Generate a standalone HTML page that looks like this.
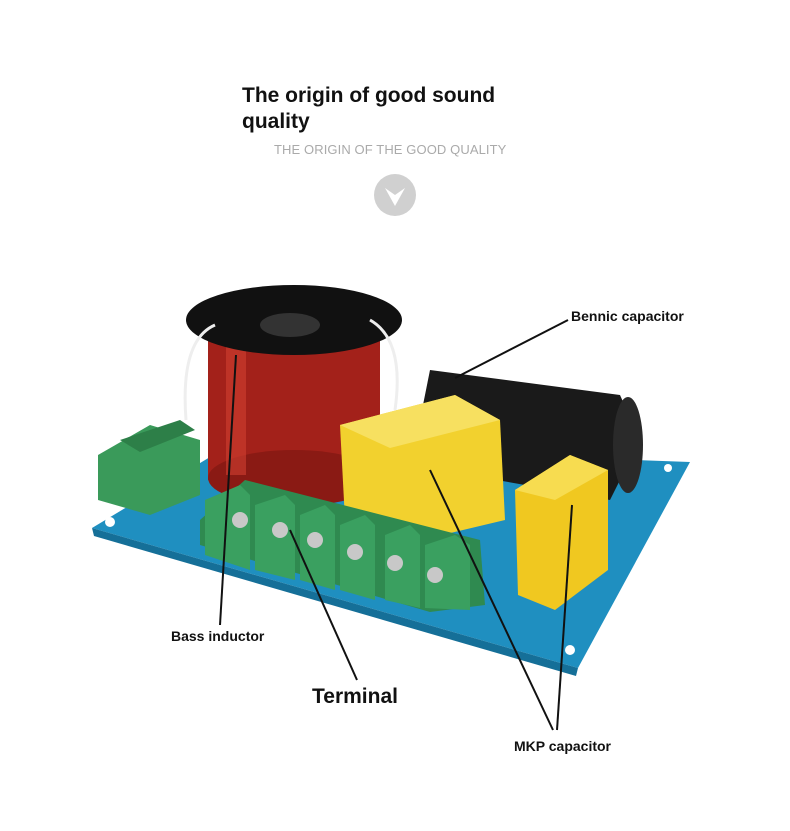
<!DOCTYPE html>
<html><head><meta charset="utf-8"><style>
html,body{margin:0;padding:0;background:#fff;}
body{width:790px;height:831px;position:relative;overflow:hidden;font-family:"Liberation Sans",sans-serif;}
.t{position:absolute;left:242px;top:83px;font-size:21px;font-weight:bold;line-height:26px;color:#111;width:300px;}
.s{position:absolute;left:274px;top:142px;font-size:13px;color:#aaa;letter-spacing:0.1px;}
.l{position:absolute;font-weight:bold;color:#111;background:#fff;}
</style></head><body>
<div class="t">The origin of good sound<br>quality</div>
<div class="s">THE ORIGIN OF THE GOOD QUALITY</div>
<svg width="790" height="831" style="position:absolute;left:0;top:0">
<circle cx="395" cy="195" r="21" fill="#d0d0d0"/>
<polygon points="385,188 395,195 405,188 395,206" fill="#fff"/>
<!-- PCB -->
<polygon points="92,528 230,445 690,462 578,668" fill="#1f8fc0"/>
<polygon points="92,528 578,668 576,676 94,536" fill="#156f98"/>
<circle cx="110" cy="522" r="5" fill="#fff"/>
<circle cx="570" cy="650" r="5" fill="#fff"/>
<circle cx="668" cy="468" r="4" fill="#fff"/>
<!-- left terminal -->
<polygon points="98,455 150,425 200,440 200,495 150,515 98,500" fill="#3a9a5a"/>
<polygon points="120,440 180,420 195,430 140,452" fill="#2d7f48"/>
<!-- inductor -->
<rect x="208" y="330" width="172" height="150" fill="#a3211a"/>
<ellipse cx="294" cy="478" rx="86" ry="28" fill="#8a1a14"/>
<rect x="226" y="345" width="20" height="130" fill="#d04030" opacity="0.6"/>
<ellipse cx="294" cy="320" rx="108" ry="35" fill="#111"/>
<ellipse cx="290" cy="325" rx="30" ry="12" fill="#333"/>
<path d="M186,420 Q180,340 215,325 M395,410 Q405,340 370,320" stroke="#eee" stroke-width="3" fill="none"/>
<!-- black capacitor -->
<polygon points="430,370 620,395 640,440 610,500 440,470 420,420" fill="#1a1a1a"/>
<ellipse cx="628" cy="445" rx="15" ry="48" fill="#2a2a2a"/>
<!-- yellow MKP big -->
<polygon points="340,425 455,395 500,420 505,520 400,545 345,520" fill="#f2d12e"/>
<polygon points="340,425 455,395 500,420 390,448" fill="#f7e060"/>
<!-- small yellow -->
<polygon points="515,490 570,455 608,470 608,570 555,610 518,595" fill="#f0c820"/>
<polygon points="515,490 570,455 608,470 555,500" fill="#f7dc50"/>
<!-- green terminals -->
<polygon points="200,520 245,480 480,540 485,605 430,612 200,545" fill="#2f8a50"/>
<g fill="#3aa060">
<polygon points="205,500 240,485 250,495 250,570 205,555"/>
<polygon points="255,505 285,495 295,505 295,580 255,570"/>
<polygon points="300,515 325,505 335,515 335,590 300,580"/>
<polygon points="340,525 365,515 375,525 375,600 340,590"/>
<polygon points="385,535 410,525 420,535 420,608 385,600"/>
<polygon points="425,545 455,535 470,545 470,610 425,608"/>
</g>
<g fill="#c8c8c8"><circle cx="240" cy="520" r="8"/><circle cx="280" cy="530" r="8"/><circle cx="315" cy="540" r="8"/><circle cx="355" cy="552" r="8"/><circle cx="395" cy="563" r="8"/><circle cx="435" cy="575" r="8"/></g>
<!-- leader lines -->
<g stroke="#111" stroke-width="2" fill="none">
<line x1="568" y1="320" x2="455" y2="378"/>
<line x1="220" y1="625" x2="236" y2="355"/>
<line x1="357" y1="680" x2="290" y2="530"/>
<line x1="553" y1="730" x2="430" y2="470"/>
<line x1="557" y1="730" x2="572" y2="505"/>
</g>
</svg>
<div class="l" style="left:571px;top:308px;font-size:14px;">Bennic capacitor</div>
<div class="l" style="left:171px;top:628px;font-size:14px;">Bass inductor</div>
<div class="l" style="left:312px;top:685px;font-size:21px;">Terminal</div>
<div class="l" style="left:514px;top:738px;font-size:14px;">MKP capacitor</div>
</body></html>
